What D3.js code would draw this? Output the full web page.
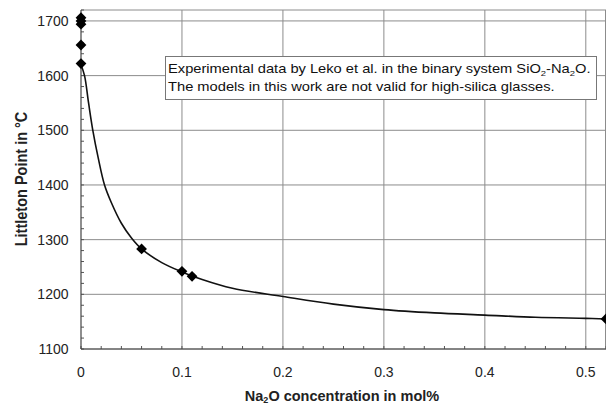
<!DOCTYPE html>
<html><head><meta charset="utf-8">
<script src="https://cdn.jsdelivr.net/npm/d3@7"></script>
<style>body{margin:0;background:#fff}svg{display:block}text{font-family:"Liberation Sans",Arial,sans-serif}</style>
</head><body><svg id="c" width="606" height="406"></svg>
<script>
const pointsX = [0, 0, 0, 0, 0, 0.06, 0.1, 0.11, 0.52];
const pointsY = [1706, 1700, 1694, 1656, 1622, 1283, 1242, 1233, 1155];
const curveX = [0, 0.0035, 0.0075, 0.0117, 0.017, 0.0233, 0.03, 0.04, 0.05, 0.06, 0.08, 0.1, 0.12, 0.15, 0.2, 0.25, 0.3, 0.35, 0.4, 0.45, 0.5, 0.52];
const curveY = [1620, 1600, 1550, 1500, 1450, 1400, 1368, 1330, 1303, 1283, 1258, 1241, 1227, 1211, 1196, 1182, 1172, 1166, 1162, 1158, 1156, 1155];
const xTicks = [0, 0.1, 0.2, 0.3, 0.4, 0.5];
const xTickLabels = ["0", "0.1", "0.2", "0.3", "0.4", "0.5"];
const yTicks = [1100, 1200, 1300, 1400, 1500, 1600, 1700];

const svg = d3.select("#c");
const L = 81, R = 606, T = 10, B = 349;
const x = d3.scaleLinear().domain([0, 0.52]).range([L, R]);
const y = d3.scaleLinear().domain([1100, 1720]).range([B, T]);

// grid
const g = svg.append("g");
g.selectAll(".hg").data(yTicks).join("line")
  .attr("x1", L).attr("x2", R).attr("y1", d => y(d)).attr("y2", d => y(d))
  .attr("stroke", "#8c8c8c").attr("stroke-width", 1);
g.selectAll(".vg").data(xTicks.slice(1)).join("line")
  .attr("y1", T).attr("y2", B).attr("x1", d => x(d)).attr("x2", d => x(d))
  .attr("stroke", "#8c8c8c").attr("stroke-width", 1);
g.append("line").attr("x1", L).attr("x2", R).attr("y1", T).attr("y2", T).attr("stroke", "#8c8c8c");
g.append("line").attr("x1", R - 0.5).attr("x2", R - 0.5).attr("y1", T).attr("y2", B).attr("stroke", "#8c8c8c");

// minor ticks
const yMinor = d3.range(1100, 1721, 20);
g.selectAll(".ym").data(yMinor).join("line")
  .attr("x1", L).attr("x2", L + 3).attr("y1", d => y(d)).attr("y2", d => y(d))
  .attr("stroke", "#555");
const xMinor = d3.range(0, 0.521, 0.02);
g.selectAll(".xm").data(xMinor).join("line")
  .attr("y1", B).attr("y2", B - 3).attr("x1", d => x(d)).attr("x2", d => x(d))
  .attr("stroke", "#555");

// axes lines
svg.append("line").attr("x1", L).attr("x2", L).attr("y1", T).attr("y2", B).attr("stroke", "#444").attr("stroke-width", 1.2);
svg.append("line").attr("x1", L).attr("x2", R).attr("y1", B).attr("y2", B).attr("stroke", "#444").attr("stroke-width", 1.2);

// tick labels
svg.selectAll(".yl").data(yTicks).join("text")
  .attr("x", 68.5).attr("y", d => y(d)).attr("dy", "0.36em")
  .attr("text-anchor", "end").attr("font-size", 14).attr("fill", "#222").text(d => d);
svg.selectAll(".xl").data(xTicks).join("text")
  .attr("x", d => x(d)).attr("y", 377).attr("text-anchor", "middle")
  .attr("font-size", 14).attr("fill", "#222").text((d, i) => xTickLabels[i]);

// axis titles
svg.append("text").attr("transform", "translate(27,179) scale(1.1,1) rotate(-90)")
  .attr("text-anchor", "middle").attr("font-size", 14.5).attr("font-weight", "bold").attr("fill", "#222")
  .text("Littleton Point in °C");
const xt = svg.append("text").attr("x", 342).attr("y", 401).attr("text-anchor", "middle")
  .attr("font-size", 14.5).attr("font-weight", "bold").attr("fill", "#222");
xt.append("tspan").text("Na");
xt.append("tspan").attr("font-size", 9).attr("dy", 2).text("2");
xt.append("tspan").attr("dy", -2).text("O concentration in mol%");

// curve
const line = d3.line().x(d => x(d[0])).y(d => y(d[1])).curve(d3.curveCatmullRom.alpha(0.5));
svg.append("path").datum(curveX.map((v, i) => [v, curveY[i]]))
  .attr("d", line).attr("fill", "none").attr("stroke", "#111").attr("stroke-width", 1.6);

// points (diamonds)
const sym = d3.symbol().type(d3.symbolSquare).size(58);
svg.selectAll(".pt").data(pointsX.map((v, i) => [v, pointsY[i]])).join("path")
  .attr("d", sym).attr("transform", d => "translate(" + x(d[0]) + "," + y(d[1]) + ") rotate(45)")
  .attr("fill", "#000");

// annotation box
svg.append("rect").attr("x", 165.5).attr("y", 56.5).attr("width", 431).attr("height", 43)
  .attr("fill", "#fff").attr("stroke", "#777");
const ag = svg.append("g");
const t1 = ag.append("text").attr("x", 0).attr("y", 73).attr("font-size", 12.5).attr("fill", "#111");
t1.append("tspan").text("Experimental data by Leko et al. in the binary system SiO");
t1.append("tspan").attr("font-size", 8).attr("dy", 3).text("2");
t1.append("tspan").attr("dy", -3).text("-Na");
t1.append("tspan").attr("font-size", 8).attr("dy", 3).text("2");
t1.append("tspan").attr("dy", -3).text("O.");
ag.append("text").attr("x", 0).attr("y", 91).attr("font-size", 12.5).attr("fill", "#111")
  .text("The models in this work are not valid for high-silica glasses.");
const w1 = t1.node().getComputedTextLength();
const sx = 423 / w1;
ag.attr("transform", "translate(168,0) scale(" + sx + ",1)");
</script></body></html>
